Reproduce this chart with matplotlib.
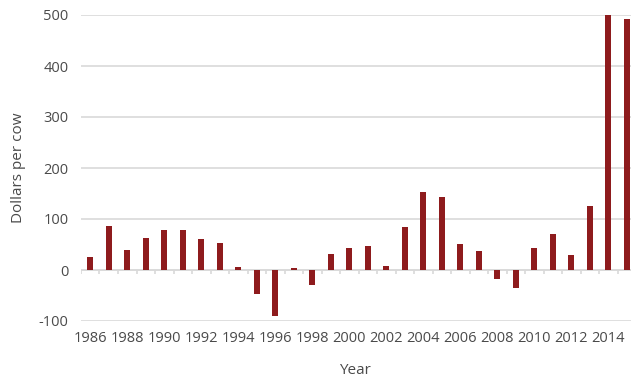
import matplotlib
matplotlib.use("Agg")
import matplotlib.pyplot as plt
import numpy as np

# Valeurs (dollars par vache)
years = list(range(1986, 2016))
values = [26, 87, 39, 63, 78, 78, 61, 52, 6, -48,
          -90, 3, -29, 31, 43, 47, 7, 85, 152, 144,
          51, 37, -18, -36, 44, 71, 29, 125, 500, 493]
yticks = [-100, 0, 100, 200, 300, 400, 500]

BAR_COLOR = "#8e1b1d"
TEXT_COLOR = "#4a4a4a"
GRID_COLOR = "#d9d9d9"

fig = plt.figure(figsize=(6.31, 3.76), dpi=100)
W, H = 631, 376
# axes en pixels : gauche 81, droite 636 (coupée), haut 15, bas 321
ax = fig.add_axes([81 / W, (H - 321) / H, (636 - 81) / W, (321 - 15) / H])

x = np.arange(len(years))
ax.bar(x, values, width=0.34, color=BAR_COLOR, zorder=3)

ax.set_xlim(-0.5, len(years) - 0.5)
ax.set_ylim(-100, 500)
ax.set_yticks(yticks)
ax.set_yticklabels([str(v) for v in yticks])
ax.yaxis.grid(True, color=GRID_COLOR, linewidth=1.2, zorder=0)

# axe horizontal à zéro avec petites graduations entre catégories (style Excel)
ax.axhline(0, color=GRID_COLOR, linewidth=1.2, zorder=1)
ax.vlines(np.arange(len(years) + 1) - 0.5, -8, 0, color=GRID_COLOR,
          linewidth=1.2, zorder=1)

ax.set_xticks(x[::2])
ax.set_xticklabels([str(y) for y in years[::2]])

for s in ax.spines.values():
    s.set_visible(False)
ax.tick_params(axis="both", length=0, colors=TEXT_COLOR, labelsize=10.5)
ax.tick_params(axis="x", pad=7)
ax.tick_params(axis="y", pad=9)
for lab in ax.get_xticklabels() + ax.get_yticklabels():
    lab.set_family("Open Sans")

ax.set_ylabel("Dollars per cow", color=TEXT_COLOR, fontsize=11,
              family="Open Sans")
ax.yaxis.set_label_coords((26 - 81) / (636 - 81), 0.5)
ax.set_xlabel("Year", color=TEXT_COLOR, fontsize=11, family="Open Sans")
ax.xaxis.set_label_coords((355 - 81) / (636 - 81), -(370 - 321) / (321 - 15))
ax.xaxis.label.set_va("center")

fig.savefig("out.png", dpi=100)
